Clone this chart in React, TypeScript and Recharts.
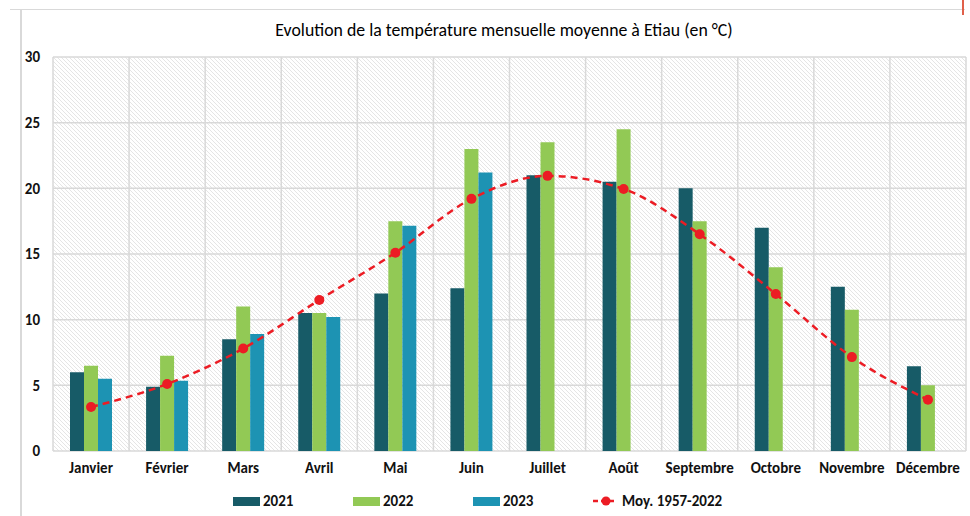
import React from 'react';
import {
  Bar,
  CartesianGrid,
  ComposedChart,
  Legend,
  Line,
  XAxis,
  YAxis,
} from 'recharts';

const months = [
  'Janvier',
  'Février',
  'Mars',
  'Avril',
  'Mai',
  'Juin',
  'Juillet',
  'Août',
  'Septembre',
  'Octobre',
  'Novembre',
  'Décembre',
];
const t2021 = [6, 4.9, 8.5, 10.5, 12, 12.4, 21, 20.5, 20, 17, 12.5, 6.45];
const t2022 = [6.5, 7.25, 11, 10.5, 17.5, 23, 23.5, 24.5, 17.5, 14, 10.75, 5];
const t2023 = [5.5, 5.35, 8.9, 10.2, 17.15, 21.2, null, null, null, null, null, null];
const moyenne = [3.35, 5.1, 7.8, 11.5, 15.1, 19.2, 20.95, 19.95, 16.5, 11.95, 7.15, 3.9];
const yTicks = [0, 5, 10, 15, 20, 25, 30];
const boundaryTicks = [0, 1, 2, 3, 4, 5, 6, 7, 8, 9, 10, 11, 12];

const data = months.map((m, i) => ({
  month: m,
  idx: i + 0.5,
  y2021: t2021[i],
  y2022: t2022[i],
  y2023: t2023[i],
  moy: moyenne[i],
}));

const COLORS = {
  y2021: '#175b67',
  y2022: '#92c955',
  y2023: '#1d93b3',
  moy: '#ec1c24',
};

const FONT = 'Carlito, Lato, "Liberation Sans", sans-serif';
const GRID = '#d9d9d9';

function LegendContent() {
  const swatch = (color: string) => (
    <span style={{ display: 'inline-block', width: 27, height: 9, background: color, marginRight: 3 }} />
  );
  const item = { display: 'flex', alignItems: 'center', width: 120 };
  return (
    <div
      style={{
        display: 'flex',
        alignItems: 'center',
        height: 30,
        paddingLeft: 233,
        fontFamily: FONT,
        fontWeight: 700,
        fontSize: 15,
        color: '#111',
      }}
    >
      <div style={item}>{swatch(COLORS.y2021)}2021</div>
      <div style={item}>{swatch(COLORS.y2022)}2022</div>
      <div style={item}>{swatch(COLORS.y2023)}2023</div>
      <div style={{ ...item, width: 200 }}>
        <svg width={24} height={12} style={{ marginRight: 5 }}>
          <line x1={0} y1={6} x2={24} y2={6} stroke={COLORS.moy} strokeWidth={2.5} strokeDasharray='5 3' />
          <circle cx={13} cy={6} r={4.5} fill={COLORS.moy} />
        </svg>
        Moy. 1957-2022
      </div>
    </div>
  );
}

const EmptyTick = () => <g />;

export default function App() {
  return (
    <div
      style={{
        position: 'absolute',
        left: 0,
        top: 0,
        width: 970,
        height: 516,
        background: '#fff',
        overflow: 'hidden',
      }}
    >
      {/* frame remnants of the source page */}
      <div style={{ position: 'absolute', left: 10, top: 9, width: 955, borderTop: `1px solid ${GRID}` }} />
      <div style={{ position: 'absolute', left: 20, top: 9, height: 510, borderLeft: `2px solid ${GRID}` }} />
      <div style={{ position: 'absolute', left: 962, top: 0, height: 15, borderLeft: '2px solid #e0604a' }} />
      <div
        style={{
          position: 'absolute',
          left: 0,
          width: 1008,
          top: 19,
          textAlign: 'center',
          fontFamily: FONT,
          fontSize: 17.8,
          color: '#000',
        }}
      >
        Evolution de la température mensuelle moyenne à Etiau (en °C)
      </div>
      <ComposedChart
        width={970}
        height={516}
        data={data}
        margin={{ top: 57, right: 4, bottom: 0, left: 0 }}
        barCategoryGap={17}
        barGap={0}
        style={{ position: 'absolute', left: 0, top: 0 }}
      >
        <defs>
          <pattern id='hatch' width='4' height='4' patternUnits='userSpaceOnUse'>
            <rect width='4' height='4' fill='#ffffff' />
            <path d='M0,0 L4,4 M-1,3 L1,5 M3,-1 L5,1' stroke='#d4d4d4' strokeWidth={0.6} />
          </pattern>
        </defs>
        <CartesianGrid
          stroke={GRID}
          strokeWidth={1.5}
          fill='url(#hatch)'
          fillOpacity={1}
          verticalCoordinatesGenerator={({ offset }: any) =>
            boundaryTicks.map((t) => offset.left + (t * offset.width) / 12)
          }
        />
        <XAxis
          xAxisId='grid'
          type='number'
          dataKey='idx'
          domain={[0, 12]}
          ticks={boundaryTicks}
          tick={<EmptyTick />}
          tickSize={6}
          tickLine={{ stroke: GRID, strokeWidth: 1.5 }}
          axisLine={{ stroke: GRID, strokeWidth: 1.5 }}
          height={0}
        />
        <XAxis
          xAxisId='cat'
          dataKey='month'
          interval={0}
          axisLine={false}
          tickLine={false}
          tickSize={6}
          tickMargin={5}
          height={35}
          tick={{ fill: '#111', fontSize: 15, fontWeight: 700, fontFamily: FONT }}
        />
        <YAxis
          domain={[0, 30]}
          ticks={yTicks}
          width={53}
          axisLine={false}
          tickLine={false}
          tickMargin={7}
          tick={{ fill: '#111', fontSize: 15, fontWeight: 700, fontFamily: FONT }}
        />
        <Legend verticalAlign='bottom' height={30} content={<LegendContent />} wrapperStyle={{ left: 0, width: 970 }} />
        <Bar xAxisId='cat' dataKey='y2021' fill={COLORS.y2021} isAnimationActive={false} />
        <Bar xAxisId='cat' dataKey='y2022' fill={COLORS.y2022} isAnimationActive={false} />
        <Bar xAxisId='cat' dataKey='y2023' fill={COLORS.y2023} isAnimationActive={false} />
        <Line
          xAxisId='cat'
          type='monotone'
          dataKey='moy'
          stroke={COLORS.moy}
          strokeWidth={2.5}
          strokeDasharray='7 5'
          dot={{ r: 5, fill: COLORS.moy, stroke: COLORS.moy, strokeWidth: 0 }}
          isAnimationActive={false}
        />
      </ComposedChart>
    </div>
  );
}
